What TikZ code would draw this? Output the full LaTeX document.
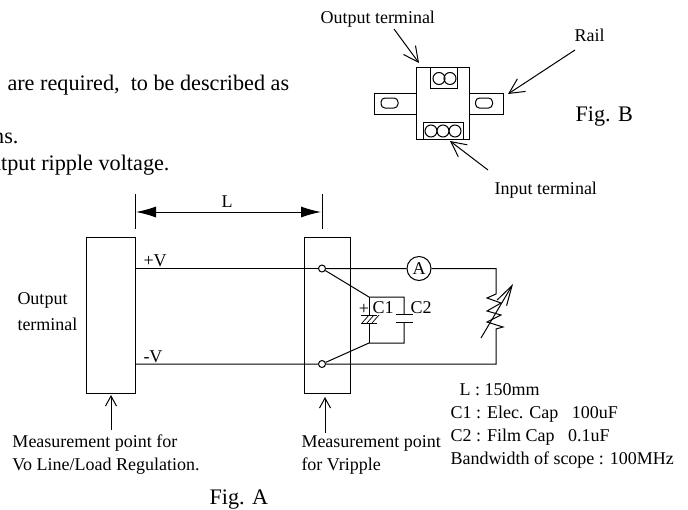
\documentclass[tikz,border=0pt]{standalone}
\usepackage{fontspec}
\setmainfont{Liberation Serif}
\usetikzlibrary{arrows.meta}
\tikzset{
 lbl/.style={anchor=base west, inner sep=0pt, font=\fontsize{18}{23}\selectfont},
 big/.style={anchor=base west, inner sep=0pt, font=\fontsize{22.2}{26}\selectfont},
 body/.style={draw, rectangle, inner sep=0pt},
 term/.style={draw, circle, fill=white, inner sep=0pt, minimum size=7pt},
 pin/.style={draw, circle, inner sep=0pt, minimum size=12pt},
 slot/.style={draw, rectangle, rounded corners=4pt, inner sep=0pt, minimum width=17pt, minimum height=10pt},
 barb/.style={-{Straight Barb[length=10pt,width=11pt]}},
 bigbarb/.style={-{Straight Barb[length=15pt,width=15pt]}},
 dim/.style={{Latex[length=20pt,width=11pt]}-{Latex[length=20pt,width=11pt]}}
}
\begin{document}
\begin{tikzpicture}[>=latex, x=1pt, y=-1pt, line width=1pt]
\useasboundingbox (0,0) rectangle (688,509);
% text above the circuit
\node[big] (txta) at (7,90) {are required,~ to be described as};
\node[big, anchor=base east] (txtb) at (19,143) {ns.};
\node[big, anchor=base east] (txtc) at (170,170) {utput ripple voltage.};
% Fig. B
\node[lbl] (outlbl) at (320,23) {Output terminal};
\node[lbl] (raillbl) at (574,41) {Rail};
\node[big] (figb) at (575,121) {Fig. B};
\node[lbl] (inlbl) at (494,194) {Input terminal};
\draw (416,93)--(374,93)--(374,114)--(416,114);
\draw (469,93)--(503,93)--(503,114)--(469,114);
\node[body, minimum width=53pt, minimum height=72pt] (unit) at (442.5,103) {};
\node[slot] (sloto) at (389.5,103) {};
\node[slot] (slotp) at (484,103) {};
\node[body, minimum width=27pt, minimum height=21pt] (topblk) at (443.5,77.5) {};
\node[body, minimum width=40pt, minimum height=17pt] (botblk) at (443,130.5) {};
\foreach \x in {439,450}
 \node[pin] (o\x) at (\x,78.5) {};
\foreach \x in {431,443,455}
 \node[pin] (i\x) at (\x,131) {};
\coordinate (a1) at (394,29);
\coordinate (a2) at (419,63);
\coordinate (b1) at (575,50);
\coordinate (b2) at (508,94);
\coordinate (c1) at (488,170);
\coordinate (c2) at (450,141);
\draw[bigbarb](a1)--(a2);
\draw[bigbarb](b1)--(b2);
\draw[bigbarb](c1)--(c2);
% Fig. A boxes
\node[body, minimum width=49pt, minimum height=156pt] (leftbox) at (110.5,315) {};
\node[body, minimum width=46pt, minimum height=156pt] (rightbox) at (327,315) {};
\coordinate (dla) at (135,194);
\coordinate (dlb) at (135,229);
\coordinate (dra) at (322,194);
\coordinate (drb) at (322,229);
\draw(dla)--(dlb);
\draw(dra)--(drb);
\coordinate (dl) at (136,212);
\coordinate (dr) at (321,212);
\draw[dim](dl)--(dr);
\node[lbl, anchor=base] (llbl) at (227,207) {L};
% wires
\node[term] (vp) at (322,268.5) {};
\node[term] (vm) at (322,364) {};
\node[pin, minimum size=24pt, font=\fontsize{18}{23}\selectfont] (amp) at (419,268.5) {A};
\coordinate (lp) at (135,268.5);
\coordinate (lm) at (135,364);
\coordinate (rp) at (496,268.5);
\coordinate (rm) at (496,364);
\coordinate (r1) at (496,294);
\coordinate (r2) at (496,329);
\draw(lp)--(vp);
\draw(vp)--(amp)--(rp)--(r1)--(487,298)--(501,303)--(487,311)--(501,315)--(487,322)--(503,327)--(r2)--(rm)--(vm)--(lm);
\coordinate (ra) at (481,338);
\coordinate (rb) at (513,284);
\draw[-{Straight Barb[length=20pt,width=11pt]}](ra)--(rb);
% capacitors
\coordinate (ct) at (369,297);
\coordinate (cb) at (369,343);
\coordinate (dt) at (404,297);
\coordinate (db) at (404,343);
\draw(vp)--(ct)--(dt)--(404,314);
\draw(vm)--(cb)--(db)--(404,322);
\draw(396,314)--(413,314);
\draw(396,322)--(413,322);
\draw(ct)--(369,315);
\draw(cb)--(369,323);
\draw(361,315)--(377,315);
\draw(361,323)--(377,323);
\foreach \x in {362,367,372}
 \draw[line width=.7pt](\x,323)--(\x+7,315);
\node[lbl, anchor=base] (plus) at (364,314) {+};
\node[lbl] (cap1) at (372,313) {C1};
\node[lbl] (cap2) at (410,313) {C2};
% labels of Fig. A
\node[lbl] (pv) at (143,266) {+V};
\node[lbl] (mv) at (143,362) {-V};
\node[lbl] (ot1) at (17,304) {Output};
\node[lbl] (ot2) at (17,330) {terminal};
\coordinate (m1) at (111,430);
\coordinate (m2) at (111,395);
\coordinate (n1) at (325,433);
\coordinate (n2) at (325,397);
\draw[barb](m1)--(m2);
\draw[barb](n1)--(n2);
\node[lbl] (ma) at (12,447) {Measurement point for};
\node[lbl] (mb) at (12,470) {Vo Line/Load Regulation.};
\node[lbl] (na) at (301,447) {Measurement point};
\node[lbl] (nb) at (301,470) {for Vripple};
\node[lbl] (sa) at (459,395) {L : 150mm};
\node[lbl] (sb) at (450,418) {C1 : Elec. Cap~~ 100uF};
\node[lbl] (sc) at (450,441) {C2 : Film Cap~~ 0.1uF};
\node[lbl] (sd) at (450,464) {Bandwidth of scope : 100MHz};
\node[big] (figa) at (209,504) {Fig. A};
\end{tikzpicture}
\end{document}
